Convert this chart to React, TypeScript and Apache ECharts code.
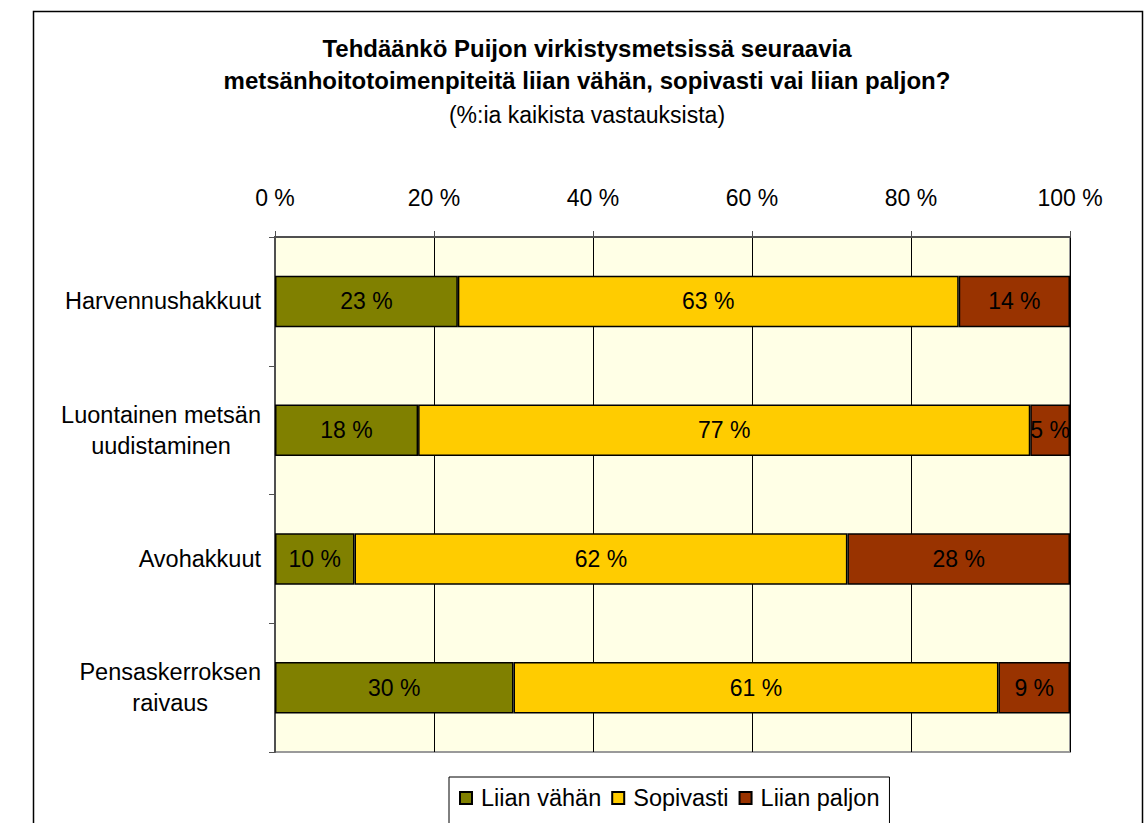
import React, { useEffect, useRef } from "react";
import * as echarts from "echarts";

const categories = [
  "Harvennushakkuut",
  "Luontainen metsän\nuudistaminen",
  "Avohakkuut",
  "Pensaskerroksen\nraivaus",
];
const seriesNames = ["Liian vähän", "Sopivasti", "Liian paljon"];
const liianVahan = [23, 18, 10, 30];
const sopivasti = [63, 77, 62, 61];
const liianPaljon = [14, 5, 28, 9];
const xTicks = { min: 0, max: 100, interval: 20 };
const colors = ["#808000", "#FFCC00", "#993300"];

const FONT = 'Arial, "Liberation Sans", sans-serif';

export default function App() {
  const ref = useRef<HTMLDivElement>(null);
  useEffect(() => {
    if (!ref.current) return;
    const chart = echarts.init(ref.current, null, { renderer: "svg" });
    const values = [liianVahan, sopivasti, liianPaljon];
    chart.setOption({
      animation: false,
      backgroundColor: "#ffffff",
      textStyle: { fontFamily: FONT },
      title: {
        text: "Tehdäänkö Puijon virkistysmetsissä seuraavia\nmetsänhoitotoimenpiteitä liian vähän, sopivasti vai liian paljon?",
        subtext: "(%:ia kaikista vastauksista)",
        left: 587,
        top: 32,
        textAlign: "center",
        itemGap: 5,
        padding: 0,
        textStyle: {
          fontFamily: FONT,
          fontSize: 24,
          fontWeight: "bold",
          color: "#000",
          lineHeight: 32,
        },
        subtextStyle: {
          fontFamily: FONT,
          fontSize: 23,
          color: "#000",
          lineHeight: 28,
        },
      },
      legend: {
        data: seriesNames,
        left: 449,
        top: 777,
        padding: [9, 10, 20, 10],
        borderColor: "#000",
        borderWidth: 1,
        backgroundColor: "#fff",
        itemWidth: 12,
        itemHeight: 12,
        itemGap: 10,
        icon: "rect",
        textStyle: { fontFamily: FONT, fontSize: 23.5, color: "#000", padding: [0, 0, 0, 4] },
      },
      grid: {
        left: 275,
        right: 78,
        top: 237,
        bottom: 71,
        show: true,
        backgroundColor: "#FFFFE6",
        borderColor: "#9a9a9a",
        borderWidth: 2,
      },
      xAxis: {
        type: "value",
        position: "top",
        min: xTicks.min,
        max: xTicks.max,
        interval: xTicks.interval,
        axisLine: { show: true, lineStyle: { color: "#505050", width: 2 } },
        axisTick: { show: true, length: 6, lineStyle: { color: "#505050" } },
        splitLine: { show: true, lineStyle: { color: "#000", width: 1 } },
        axisLabel: {
          formatter: "{value} %",
          fontFamily: FONT,
          fontSize: 23,
          color: "#000",
          margin: 28,
        },
      },
      yAxis: {
        type: "category",
        data: categories,
        inverse: true,
        axisLine: { show: true, lineStyle: { color: "#505050", width: 2 } },
        axisTick: { show: true, length: 6, alignWithLabel: false, lineStyle: { color: "#505050" } },
        splitLine: { show: false },
        axisLabel: {
          margin: 14,
          formatter: (v: string) =>
            v
              .split("\n")
              .map((l) => `{c|${l}}`)
              .join("\n"),
          rich: {
            c: {
              fontFamily: FONT,
              fontSize: 23.5,
              color: "#000",
              align: "center",
              lineHeight: 31,
            },
          },
        },
      },
      series: seriesNames.map((name, i) => ({
        name,
        type: "bar",
        stack: "total",
        barWidth: "40%",
        data: values[i],
        itemStyle: { color: colors[i], borderColor: "#000", borderWidth: 1.5 },
        label: {
          show: true,
          position: "inside",
          formatter: "{c} %",
          fontFamily: FONT,
          fontSize: 23,
          color: "#000",
        },
      })),
      graphic: [
        {
          type: "rect",
          left: 31,
          top: 9,
          shape: { width: 1109, height: 830 },
          style: { fill: "none", stroke: "#000", lineWidth: 1.5 },
          silent: true,
        },
      ],
    });
    return () => chart.dispose();
  }, []);
  return (
    <div
      ref={ref}
      style={{ position: "absolute", left: 0, top: 0, width: 1148, height: 823 }}
    />
  );
}
